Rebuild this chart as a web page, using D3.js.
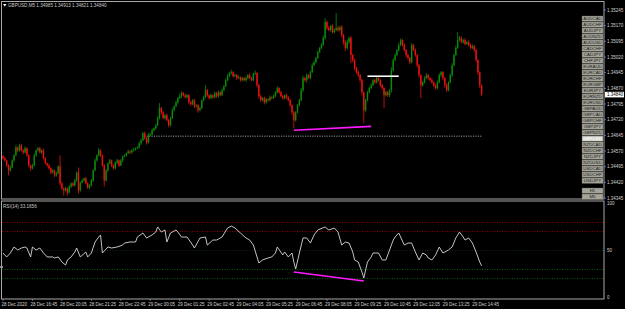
<!DOCTYPE html>
<html>
<head>
<meta charset="utf-8">
<script src="https://cdn.jsdelivr.net/npm/d3@7"></script>
<style>
  html, body { margin: 0; padding: 0; background: #000; }
  svg { display: block; }
  text { font-family: "Liberation Sans", Arial, sans-serif; }
</style>
</head>
<body>
<svg id="chart" width="625" height="309"></svg>
<script>
// GBPUSD M5 closes, in points above 1.34000
const closes = [
  535,525,501,477,491,525,549,587,573,597,573,563,583,549,501,487,501,549,573,583,
  563,573,535,511,501,487,467,477,453,463,496,415,391,381,391,371,400,415,405,429,
  467,381,419,429,439,415,395,405,429,477,525,549,573,549,501,429,477,511,525,501,
  487,515,525,501,525,544,549,559,568,563,573,578,583,587,607,621,655,631,611,645,
  650,669,679,693,727,775,755,727,741,717,693,727,765,784,803,823,832,847,837,827,
  837,803,794,813,784,789,765,775,813,827,861,837,823,837,827,847,832,851,837,861,
  880,909,928,943,947,928,933,919,923,909,919,909,919,933,919,909,938,943,885,832,
  813,823,803,818,813,827,823,832,851,871,851,832,823,837,827,813,789,755,717,755,
  789,813,861,919,909,933,919,947,981,995,1015,1043,1063,1077,1111,1187,1159,1149,1168,1139,
  1149,1159,1149,1163,1125,1091,1063,1091,1111,1029,1005,967,947,933,909,851,765,813,851,871,
  885,909,899,919,909,885,871,837,851,837,861,957,1005,1029,1053,1077,1101,1077,1053,1029,
  1015,995,1077,1053,1029,981,933,885,899,919,933,919,909,899,885,871,899,933,947,919,
  885,861,899,933,981,1029,1063,1101,1111,1091,1101,1082,1091,1077,1063,1072,1053,1005,947,885,
  840
];
const firstOpen = 545;
// wick lengths in points above/below the candle body
const wickUp = [
  5,8,4,6,10,5,7,12,4,8,6,5,9,4,6,3,8,10,5,7,
  6,4,8,5,3,7,5,6,4,8,5,53,6,4,8,5,7,4,6,9,
  5,24,6,8,4,7,5,6,8,5,10,6,12,5,4,6,8,5,7,4,
  6,5,8,4,7,5,6,4,9,5,6,8,4,5,7,10,6,8,5,12,
  6,8,5,7,10,24,6,8,5,9,6,7,10,5,8,6,12,8,5,7,
  6,4,8,5,7,6,5,9,4,8,24,6,5,8,4,7,6,9,5,8,
  6,8,10,7,12,5,8,6,9,4,7,6,8,5,10,6,7,12,4,6,
  8,5,7,6,4,9,5,8,6,10,5,7,6,4,8,5,6,4,7,5,
  6,8,10,12,6,9,5,8,10,7,6,8,5,9,12,19,8,10,6,9,
  8,72,10,6,9,5,8,12,6,10,5,7,6,8,5,6,4,7,8,6,
  9,5,8,6,10,5,7,4,6,8,5,15,10,8,6,12,8,5,9,6,
  7,5,10,6,8,5,6,4,7,8,10,6,5,8,4,7,9,10,6,5,
  6,8,5,7,10,8,12,38,10,8,6,9,7,10,6,8,5,6,4,5,
  4
];
const wickDn = [
  6,5,8,24,6,4,7,5,9,6,5,8,4,6,10,12,5,4,7,6,
  5,8,6,4,7,6,9,5,8,6,4,10,8,24,6,15,5,8,6,4,
  7,14,6,5,8,4,6,9,5,7,4,6,5,8,6,29,5,7,4,8,
  6,5,7,8,4,10,5,6,4,8,5,6,7,4,5,8,4,6,10,5,
  4,6,5,8,4,6,10,5,7,6,9,5,4,6,5,7,4,8,6,5,
  7,10,8,5,9,6,12,5,4,6,5,8,6,4,7,5,8,6,5,4,
  5,4,6,5,8,6,5,9,4,7,6,5,8,6,5,4,6,5,10,12,
  8,6,10,7,8,5,6,4,5,6,8,5,7,6,9,5,8,12,38,6,
  5,6,4,10,8,12,5,6,4,5,6,5,4,6,5,8,10,6,8,5,
  6,5,8,7,10,12,15,6,8,38,10,12,8,9,10,14,62,10,6,5,
  6,5,8,6,7,9,8,62,6,8,10,12,6,5,4,6,5,8,6,9,
  8,10,6,5,8,10,12,62,8,6,5,8,6,7,9,8,6,5,8,10,
  12,8,6,5,8,6,5,4,6,5,8,6,5,7,6,5,8,10,12,14,
  6
];

// RSI(14)
const rsiBars = [0,2,4,6,8,10,12,13,15,16,18,20,22,24,27,28,30,32,34,35,37,39,40,42,45,46,48,50,52,53,54,57,59,62,65,66,69,72,73,76,78,81,83,84,86,88,89,91,94,95,97,100,103,104,107,110,111,114,116,119,122,124,126,129,132,134,136,138,139,141,144,146,148,149,152,153,155,157,158,159,161,163,165,167,169,171,175,177,180,182,184,186,188,190,191,193,195,196,198,200,201,204,206,208,209,212,213,215,218,220,222,224,226,228,230,231,233,235,237,239,242,244,246,248,250,251,253,255,257,259,260];
const rsiValues = [46.8,42.6,46.8,53.2,50,52.1,53.2,52.1,42.6,53.2,50,52.1,46.8,42.6,42.6,41.5,42.6,37.2,34,39.4,42.6,47.9,52.1,42.6,47.9,42.6,46.8,58.5,63.8,66,46.8,53.2,52.1,53.2,55.3,57.4,58.5,58.5,63.8,68.1,62.8,66,69.1,74.5,69.1,71.3,58.5,68.1,71.3,69.1,63.8,63.8,55.3,52.1,62.8,63.8,55.3,60.6,60.6,63.8,73.4,75.5,73.4,68.1,62.8,60.6,55.3,42.6,36.2,39.4,41.5,42.6,46.8,53.2,44.7,47.9,42.6,46.8,37.2,29.8,46.8,62.8,62.8,57.4,66,71.3,74.5,71.3,73.4,69.1,55.3,58.5,57.4,47.9,39.4,37.2,26.6,20.2,37.2,42.6,46.8,46.8,39.4,39.4,44.7,60.6,63.8,68.1,55.3,57.4,57.4,47.9,39.4,46.8,44.7,41.5,39.4,44.7,53.2,46.8,50,53.2,62.8,69.1,63.8,60.6,62.8,57.4,47.9,37.2,33.17];
const rsiLevels = [80, 70, 50, 30, 20];

const priceTicks = [1.35245, 1.35170, 1.35095, 1.35020, 1.34945, 1.34870, 1.34795, 1.34720, 1.34645, 1.34570, 1.34495, 1.34420, 1.34345];
const lastPrice = 1.34840;
const timeBars = [0,16,32,48,64,80,96,112,128,144,160,176,192,208,224,240,256];
const timeLabels = ["28 Dec 2020","28 Dec 16:45","28 Dec 20:05","28 Dec 21:25","28 Dec 22:45","29 Dec 00:05","29 Dec 01:25","29 Dec 02:45","29 Dec 04:05","29 Dec 05:25","29 Dec 06:45","29 Dec 08:05","29 Dec 09:25","29 Dec 10:45","29 Dec 12:05","29 Dec 13:25","29 Dec 14:45"];
const symbols = ["AUDCAD","AUDCHF","AUDJPY","AUDNZD","AUDUSD","CADCHF","CADJPY","CHFJPY","EURAUD","EURCAD","EURCHF","EURGBP","EURJPY","EURNZD","EURUSD","GBPAUD","GBPCAD","GBPCHF","GBPJPY","GBPNZD","GBPUSD","NZDCAD","NZDCHF","NZDJPY","NZDUSD","USDCAD","USDCHF","USDJPY","H1","M5"];
const header = "GBPUSD,M5  1.34985 1.34913 1.34821 1.34840";
const rsiTitle = "RSI(14) 33.1656";

// drawn objects (bar index / price)
const supportPrice = 1.34641, supportFrom = 78;
const resistPrice = 1.34928, resistBars = [198, 215];
const divPriceBars = [158, 200], divPrices = [1.34669, 1.34688];
const divRsiBars = [158, 196], divRsiValues = [26.6, 17];

const svg = d3.select("#chart");
const W = 625, H = 309;
const axisX = 604;

svg.append("rect").attr("width", W).attr("height", H).attr("fill", "#000");

// Scales
let x = d3.scaleLinear().domain([0, 260]).range([3, 481.6]);
let y = d3.scaleLinear().domain([1.34345, 1.35245]).range([198, 10]);
let rsiY = d3.scaleLinear().domain([0, 100]).range([297, 203]);
const pt = v => 1.34 + v / 100000;

// Build candles
let candles = closes.map((c, i) => {
    let open = i === 0 ? firstOpen : closes[i - 1];
    let hi = Math.max(open, c) + (wickUp[i] || 0);
    let lo = Math.min(open, c) - (wickDn[i] || 0);
    return { i: i, open: pt(open), close: pt(c), high: pt(hi), low: pt(lo), up: c >= open };
});

let main = svg.append("g");

// support dotted line
main.append("line")
    .attr("x1", x(supportFrom)).attr("x2", x(260))
    .attr("y1", y(supportPrice)).attr("y2", y(supportPrice))
    .attr("stroke", "#9a9a9a").attr("stroke-width", 1)
    .attr("stroke-dasharray", "1.2,1.2");

// Candles
const bull = "#0a8c0a", bear = "#f01010";
main.append("g")
    .selectAll("line")
    .data(candles)
    .enter()
    .append("line")
    .attr("x1", d => x(d.i)).attr("x2", d => x(d.i))
    .attr("y1", d => y(d.high)).attr("y2", d => y(d.low))
    .attr("stroke", d => d.up ? bull : bear)
    .attr("stroke-width", 0.8);

main.append("g")
    .selectAll("rect")
    .data(candles)
    .enter()
    .append("rect")
    .attr("x", d => x(d.i) - 0.7)
    .attr("width", 1.4)
    .attr("y", d => y(Math.max(d.open, d.close)))
    .attr("height", d => Math.max(0.8, Math.abs(y(d.open) - y(d.close))))
    .attr("fill", d => d.up ? bull : bear);

// resistance (white) and divergence (magenta)
main.append("line")
    .attr("x1", x(resistBars[0])).attr("x2", x(resistBars[1]))
    .attr("y1", y(resistPrice)).attr("y2", y(resistPrice))
    .attr("stroke", "#fff").attr("stroke-width", 1.6);

main.append("line")
    .attr("x1", x(divPriceBars[0])).attr("x2", x(divPriceBars[1]))
    .attr("y1", y(divPrices[0])).attr("y2", y(divPrices[1]))
    .attr("stroke", "#ff1aff").attr("stroke-width", 1.6);

// RSI panel
let rsiG = svg.append("g");
rsiG.selectAll("line.level")
    .data(rsiLevels)
    .enter()
    .append("line")
    .attr("class", "level")
    .attr("x1", 2).attr("x2", axisX)
    .attr("y1", d => Math.round(rsiY(d)) + 0.5).attr("y2", d => Math.round(rsiY(d)) + 0.5)
    .attr("stroke", d => d > 50 ? "#900000" : (d === 50 ? "#0c260c" : "#075807"))
    .attr("stroke-width", 1)
    .attr("stroke-dasharray", "1,1.5");

let rsiLine = d3.line()
    .x((d, k) => x(rsiBars[k]))
    .y(d => rsiY(d));

rsiG.append("path")
    .datum(rsiValues)
    .attr("d", rsiLine)
    .attr("fill", "none")
    .attr("stroke", "#d8d8d8")
    .attr("stroke-width", 0.9);

rsiG.append("line")
    .attr("x1", x(divRsiBars[0])).attr("x2", x(divRsiBars[1]))
    .attr("y1", rsiY(divRsiValues[0])).attr("y2", rsiY(divRsiValues[1]))
    .attr("stroke", "#ff1aff").attr("stroke-width", 1.6);

rsiG.append("text")
    .attr("x", 3).attr("y", 208)
    .attr("font-size", 4.6).attr("fill", "#c8c8c8")
    .text(rsiTitle);

rsiG.append("rect").attr("x", 0.5).attr("y", 266).attr("width", 2).attr("height", 2).attr("fill", "#fff");

// Frames
const frame = "#a8a8a8";
svg.append("rect").attr("x", 1.5).attr("y", 1.5).attr("width", axisX - 1.5).attr("height", 197.5)
    .attr("fill", "none").attr("stroke", frame).attr("stroke-width", 1);
svg.append("rect").attr("x", 1.5).attr("y", 201).attr("width", axisX - 1.5).attr("height", 98)
    .attr("fill", "none").attr("stroke", frame).attr("stroke-width", 1);

// Header
svg.append("path").attr("d", "M3,4 L6.5,4 L4.75,6.5 Z").attr("fill", "#fff");
svg.append("text")
    .attr("x", 8).attr("y", 7)
    .attr("font-size", 4.6).attr("fill", "#c8c8c8")
    .text(header);

// Symbol buttons
let btn = svg.append("g")
    .selectAll("g")
    .data(symbols)
    .enter()
    .append("g")
    .attr("transform", (d, k) => `translate(582, ${16 + k * 6 + (k >= 28 ? 4 : 0)})`);

btn.append("rect")
    .attr("width", 21).attr("height", 5.4)
    .attr("fill", d => d === "GBPUSD" ? "#d4d4d0" : "#a4a49a")
    .attr("stroke", "#5a5a52").attr("stroke-width", 0.4);

btn.append("text")
    .attr("x", 10.5).attr("y", 4.3)
    .attr("text-anchor", "middle")
    .attr("font-size", 4.4)
    .attr("fill", d => d === "GBPUSD" ? "#ffffff" : "#1a1a1a")
    .text(d => d);

// Price axis
let pAxis = svg.append("g");
pAxis.selectAll("text")
    .data(priceTicks)
    .enter()
    .append("text")
    .attr("x", 607).attr("y", d => y(d) + 1.6)
    .attr("font-size", 4.5).attr("fill", "#d0d0d0")
    .text(d => d.toFixed(5));
pAxis.selectAll("line")
    .data(priceTicks)
    .enter()
    .append("line")
    .attr("x1", axisX).attr("x2", axisX + 2)
    .attr("y1", d => y(d)).attr("y2", d => y(d))
    .attr("stroke", frame).attr("stroke-width", 0.6);

pAxis.append("rect")
    .attr("x", 605).attr("y", y(lastPrice) - 2.8)
    .attr("width", 19).attr("height", 5.6).attr("fill", "#fff");
pAxis.append("text")
    .attr("x", 607).attr("y", y(lastPrice) + 1.6)
    .attr("font-size", 4.5).attr("fill", "#000")
    .text(lastPrice.toFixed(5));

// RSI axis
let rAxis = svg.append("g");
rAxis.selectAll("text")
    .data([100, 50, 0])
    .enter()
    .append("text")
    .attr("x", 607).attr("y", d => rsiY(d) + 1.8)
    .attr("font-size", 4.5).attr("fill", "#d0d0d0")
    .text(d => d);

// Time axis
let tAxis = svg.append("g");
tAxis.selectAll("text")
    .data(timeLabels)
    .enter()
    .append("text")
    .attr("x", (d, k) => k === 0 ? 1.5 : x(timeBars[k]) - 2)
    .attr("y", 306)
    .attr("font-size", 4.5).attr("fill", "#d0d0d0")
    .text(d => d);
tAxis.selectAll("line")
    .data(timeBars)
    .enter()
    .append("line")
    .attr("x1", d => x(d)).attr("x2", d => x(d))
    .attr("y1", 299).attr("y2", 301)
    .attr("stroke", frame).attr("stroke-width", 0.6);
</script>
</body>
</html>
